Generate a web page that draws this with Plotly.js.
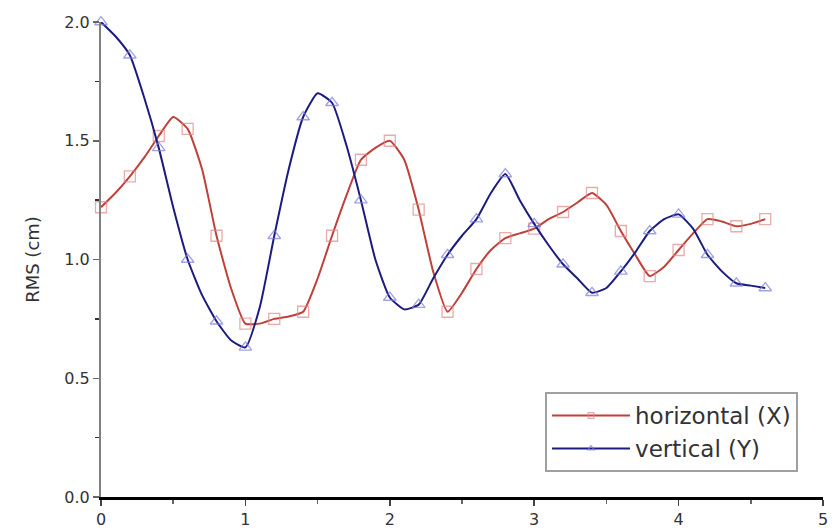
<!DOCTYPE html>
<html>
<head>
<meta charset="utf-8">
<script src="https://cdn.plot.ly/plotly-3.0.1.min.js"></script>
<style>
  html, body { margin: 0; padding: 0; background: #fff; }
  #chart { width: 840px; height: 530px; }
</style>
</head>
<body>
<div id="chart"></div>
<script>
// Sample positions (step 0.1); symbols are shown on every second sample
const xValues = [0.0, 0.1, 0.2, 0.3, 0.4, 0.5, 0.6, 0.7, 0.8, 0.9,
                 1.0, 1.1, 1.2, 1.3, 1.4, 1.5, 1.6, 1.7, 1.8, 1.9,
                 2.0, 2.1, 2.2, 2.3, 2.4, 2.5, 2.6, 2.7, 2.8, 2.9,
                 3.0, 3.1, 3.2, 3.3, 3.4, 3.5, 3.6, 3.7, 3.8, 3.9,
                 4.0, 4.1, 4.2, 4.3, 4.4, 4.5, 4.6];

// RMS, horizontal direction (cm)
const horizontalX = [1.22, 1.28, 1.35, 1.43, 1.52, 1.60, 1.55, 1.38, 1.10, 0.88,
                     0.73, 0.73, 0.75, 0.76, 0.78, 0.92, 1.10, 1.27, 1.42, 1.47,
                     1.50, 1.42, 1.21, 0.95, 0.78, 0.86, 0.96, 1.04, 1.09, 1.11,
                     1.13, 1.17, 1.20, 1.24, 1.28, 1.23, 1.12, 1.02, 0.93, 0.97,
                     1.04, 1.11, 1.17, 1.16, 1.14, 1.15, 1.17];

// RMS, vertical direction (cm)
const verticalY = [2.00, 1.94, 1.86, 1.68, 1.47, 1.22, 1.00, 0.85, 0.74, 0.66,
                   0.63, 0.80, 1.10, 1.38, 1.60, 1.70, 1.66, 1.48, 1.25, 1.00,
                   0.84, 0.79, 0.81, 0.92, 1.02, 1.10, 1.17, 1.28, 1.36, 1.25,
                   1.15, 1.06, 0.98, 0.92, 0.86, 0.88, 0.95, 1.03, 1.12, 1.17,
                   1.19, 1.13, 1.02, 0.95, 0.90, 0.89, 0.88];

const seriesNames = ['horizontal (X)', 'vertical (Y)'];
const yTickVals = [0, 0.5, 1.0, 1.5, 2.0];
const yTickText = ['0.0', '0.5', '1.0', '1.5', '2.0'];
const xTickVals = [0, 1, 2, 3, 4, 5];

// symbol on every other sample
const markerSizes = xValues.map((_, i) => (i % 2 === 0 ? 11 : 0));

const red = '#c0403a';
const navy = '#1c1c80';
const fontFamily = 'DejaVu Sans, Liberation Sans, sans-serif';

const traces = [
  {
    x: xValues, y: horizontalX, name: seriesNames[0],
    type: 'scatter', mode: 'lines+markers', cliponaxis: false,
    line: { color: red, width: 2, shape: 'spline', smoothing: 0.5 },
    marker: { symbol: 'square-open', size: markerSizes, color: '#e08888', line: { width: 1.3 } }
  },
  {
    x: xValues, y: verticalY, name: seriesNames[1],
    type: 'scatter', mode: 'lines+markers', cliponaxis: false,
    line: { color: navy, width: 2, shape: 'spline', smoothing: 0.5 },
    marker: { symbol: 'triangle-up-open', size: markerSizes, color: '#7a7ad8', line: { width: 1.3 } }
  }
];

const layout = {
  width: 840, height: 530,
  margin: { l: 101, r: 17, t: 22, b: 33 },
  paper_bgcolor: '#fff', plot_bgcolor: '#fff',
  font: { family: fontFamily, color: '#333', size: 16 },
  showlegend: true,
  legend: {
    x: 0.615, y: 0.221, xanchor: 'left', yanchor: 'top',
    bgcolor: '#fff', bordercolor: '#a0a0a0', borderwidth: 2,
    font: { family: fontFamily, size: 23, color: '#333' },
    tracegroupgap: 0, itemwidth: 78
  },
  xaxis: {
    range: [0, 5], tickvals: xTickVals, ticktext: xTickVals.map(String),
    showgrid: false, zeroline: false,
    showline: true, linecolor: '#000', linewidth: 3,
    ticks: 'outside', ticklen: 6, tickwidth: 1.5, tickcolor: '#444',
    minor: { dtick: 0.5, ticks: 'outside', ticklen: 4, tickcolor: '#666' },
    tickfont: { family: fontFamily, size: 16, color: '#333' }
  },
  yaxis: {
    range: [0, 2], tickvals: yTickVals, ticktext: yTickText,
    showgrid: false, zeroline: false,
    showline: true, linecolor: '#808080', linewidth: 2,
    ticks: 'outside', ticklen: 6, tickwidth: 1.5, tickcolor: '#666',
    minor: { dtick: 0.25, ticks: 'outside', ticklen: 4, tickcolor: '#333' },
    tickfont: { family: fontFamily, size: 16, color: '#333' },
    title: { text: 'RMS (cm)', font: { family: fontFamily, size: 18, color: '#333' }, standoff: 20 }
  }
};

Plotly.newPlot('chart', traces, layout, { displayModeBar: false, staticPlot: true });
</script>
</body>
</html>
